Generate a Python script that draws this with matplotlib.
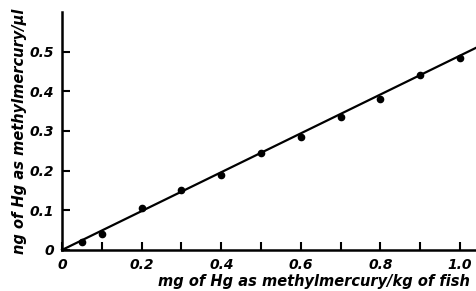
import matplotlib
matplotlib.use("Agg")
import matplotlib.pyplot as plt
import numpy as np

x_vals = [0.05, 0.1, 0.2, 0.3, 0.4, 0.5, 0.6, 0.7, 0.8, 0.9, 1.0]
y_vals = [0.02, 0.04, 0.105, 0.15, 0.19, 0.245, 0.285, 0.335, 0.38, 0.44, 0.485]
fit_x = [0.0, 1.04]
slope = 0.49

xticks_major = [0, 0.2, 0.4, 0.6, 0.8, 1.0]
xtick_labels = ["0", "0.2", "0.4", "0.6", "0.8", "1.0"]
xticks_minor = [0.1, 0.3, 0.5, 0.7, 0.9]
yticks = [0, 0.1, 0.2, 0.3, 0.4, 0.5]
ytick_labels = ["0", "0.1", "0.2", "0.3", "0.4", "0.5"]

plt.rcParams['font.family'] = ['DejaVu Sans']
fig = plt.figure(figsize=(4.77, 2.91), dpi=100)
ax = fig.add_axes([0.13, 0.141, 0.868, 0.818])

ax.plot(fit_x, [slope * v for v in fit_x], color='black', lw=1.6, clip_on=False)
ax.plot(x_vals, y_vals, 'o', color='black', ms=4.5)

ax.set_xlim(0, 1.04)
ax.set_ylim(0, 0.6)
for s in ['top', 'right']:
    ax.spines[s].set_visible(False)
for s in ['left', 'bottom']:
    ax.spines[s].set_linewidth(1.8)

ax.set_xticks(xticks_major)
ax.set_xticklabels(xtick_labels, fontsize=10, fontweight='bold', style='italic')
ax.set_xticks(xticks_minor, minor=True)
ax.set_yticks(yticks)
ax.set_yticklabels(ytick_labels, fontsize=10, fontweight='bold', style='italic')
ax.tick_params(axis='both', which='both', direction='in', length=6, width=1.5)
ax.tick_params(axis='x', pad=6)
ax.tick_params(axis='y', pad=6)

ax.set_xlabel('mg of Hg as methylmercury/kg of fish', fontsize=10.5, fontweight='bold',
              style='italic', loc='right')
ax.xaxis.set_label_coords(0.985, -0.1)
ax.set_ylabel('ng of Hg as methylmercury/µl', fontsize=10.5, fontweight='bold',
              style='italic')
ax.yaxis.set_label_coords(-0.085, 0.5)

fig.savefig('out.png', dpi=100)
